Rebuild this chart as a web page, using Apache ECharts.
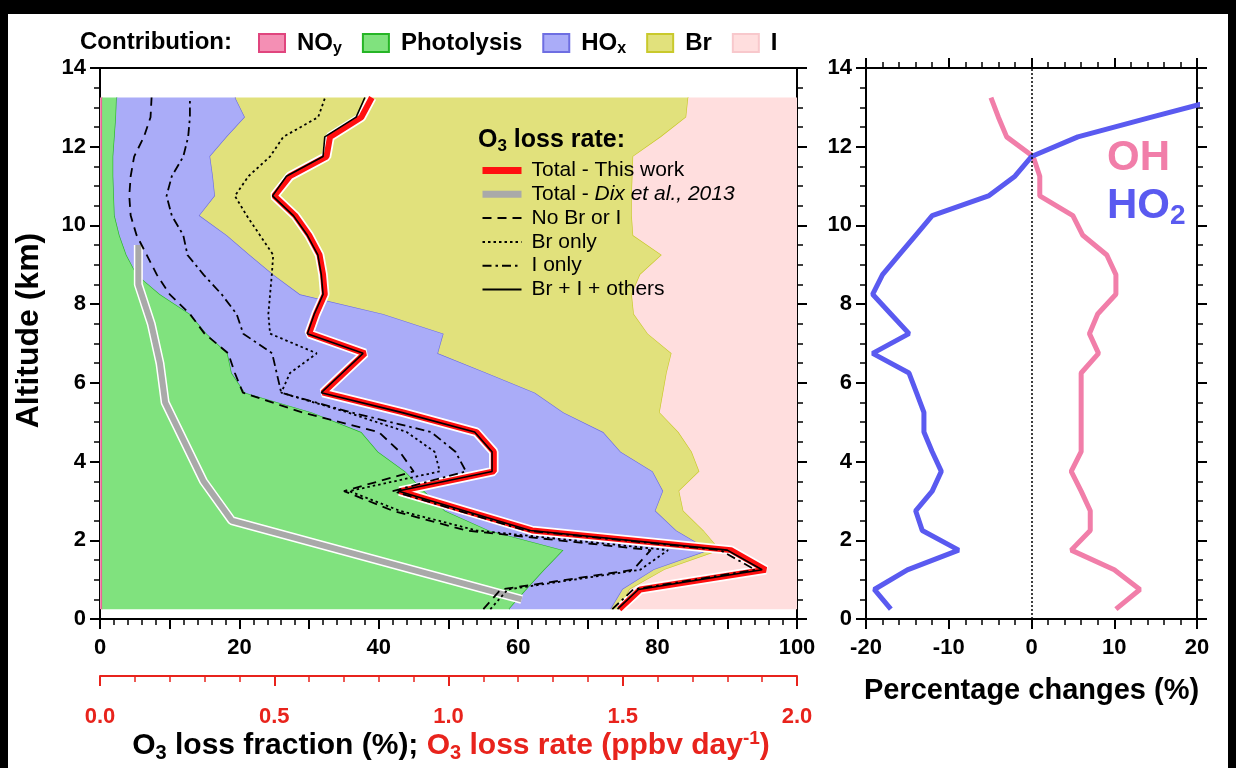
<!DOCTYPE html>
<html>
<head>
<meta charset="utf-8">
<script src="https://cdn.jsdelivr.net/npm/echarts@6/dist/echarts.min.js"></script>
<style>
  html, body { margin: 0; padding: 0; background: #000; width: 1236px; height: 768px; overflow: hidden; }
  #chart { position: absolute; left: 8px; top: 14px; width: 1220px; height: 754px; background: #fff; }
</style>
</head>
<body>
<div id="chart"></div>
<script>
// Model levels (km)
const altitude = [0.25, 0.75, 1.25, 1.75, 2.25, 2.75, 3.25, 3.75, 4.25, 4.75, 5.25, 5.75, 6.25, 6.75,
  7.25, 7.75, 8.25, 8.75, 9.25, 9.75, 10.25, 10.75, 11.25, 11.75, 12.25, 12.75, 13.25];

// Contribution of each process to the O3 loss fraction (%)
const noyShare = [0.3, 0.3, 0.3, 0.3, 0.3, 0.3, 0.3, 0.3, 0.3, 0.3, 0.3, 0.3, 0.3, 0.3,
  0.3, 0.3, 0.3, 0.3, 0.3, 0.3, 0.3, 0.3, 0.3, 0.3, 0.3, 0.3, 0.3];
const photolysisShare = [58.4, 60.9, 63.5, 66.2, 55.5, 49.2, 46.2, 43.5, 39.6, 37.2, 30.1, 20.5, 18.6, 18.0,
  15.0, 12.6, 8.3, 5.0, 3.5, 2.5, 1.8, 1.7, 1.6, 1.6, 1.8, 2.0, 2.1];
const hoxShare = [14.6, 13.8, 15.7, 21.0, 26.9, 30.2, 34.3, 35.5, 34.8, 34.7, 36.1, 41.6, 36.6, 30.2,
  34.0, 27.7, 20.1, 19.6, 17.7, 15.4, 12.2, 14.5, 14.3, 13.9, 16.1, 18.5, 17.0];
const brShare = [1.3, 1.0, 1.5, 1.5, 3.9, 4.0, 2.3, 6.7, 10.2, 10.8, 13.8, 18.4, 25.8, 33.5,
  29.3, 36.0, 47.6, 52.6, 59.1, 58.3, 62.0, 59.8, 60.2, 60.7, 62.3, 63.3, 65.0];
const iShare = [25.4, 24.0, 19.0, 11.0, 13.4, 16.3, 16.9, 14.0, 15.1, 17.0, 19.7, 19.2, 18.7, 18.0,
  21.4, 23.4, 23.7, 22.5, 19.4, 23.5, 23.7, 23.7, 23.6, 23.5, 19.5, 15.9, 15.6];

// O3 loss rates (ppbv day-1)
const totalRate = [1.49, 1.55, 1.91, 1.81, 1.24, 1.05, 0.86, 1.13, 1.13, 1.08, 0.87, 0.64, 0.70, 0.76,
  0.60, 0.62, 0.645, 0.64, 0.63, 0.60, 0.56, 0.50, 0.545, 0.65, 0.66, 0.75, 0.78];
const brIOthersRate = [1.485, 1.545, 1.90, 1.80, 1.235, 1.045, 0.855, 1.125, 1.125, 1.075, 0.865, 0.635, 0.695, 0.755,
  0.595, 0.615, 0.64, 0.635, 0.625, 0.595, 0.555, 0.495, 0.535, 0.64, 0.645, 0.735, 0.76];
const noBrIRate = [1.10, 1.15, 1.53, 1.58, 1.05, 0.84, 0.70, 0.90, 0.86, 0.80, 0.58, 0.41, 0.387, 0.368,
  0.30, 0.258, 0.20, 0.163, 0.134, 0.105, 0.088, 0.084, 0.088, 0.098, 0.126, 0.145, 0.148];
const brOnlyRate = [1.12, 1.17, 1.55, 1.63, 1.08, 0.86, 0.715, 0.975, 0.96, 0.88, 0.71, 0.52, 0.545, 0.622,
  0.488, 0.483, 0.488, 0.493, 0.497, 0.459, 0.421, 0.387, 0.426, 0.488, 0.526, 0.626, 0.646];
const iOnlyRate = [1.47, 1.53, 1.88, 1.78, 1.22, 1.03, 0.84, 1.05, 1.02, 0.95, 0.72, 0.52, 0.507, 0.494,
  0.411, 0.392, 0.349, 0.297, 0.251, 0.239, 0.206, 0.191, 0.206, 0.239, 0.253, 0.258, 0.258];

// Dix et al. (2013) total loss rate
const dixAltitude = [0.5, 2.5, 3.5, 5.5, 6.5, 7.5, 8.5, 9.5];
const dixRate = [1.21, 0.378, 0.297, 0.187, 0.172, 0.147, 0.110, 0.110];

// Percentage changes of OH and HO2 (%)
const ohChange = [10.2, 13.1, 10.0, 4.8, 7.1, 7.1, 6.0, 4.8, 6.0, 6.0, 6.0, 6.0, 6.0, 8.1,
  7.0, 8.0, 10.2, 10.2, 9.1, 6.2, 5.0, 1.0, 1.0, 0.2, -3.0, -4.0, -4.9];
const ho2Change = [-17, -19, -15, -8.8, -13.2, -14, -12, -10.9, -12, -13, -13, -13.9, -14.8, -19.2,
  -14.8, -17, -19.2, -18, -16, -14, -12, -5.2, -2, 0, 5.6, 14.5, 23.5];

// ---------------------------------------------------------------------------
const FONT = "'Liberation Sans', Arial, sans-serif";
const RED = '#e8231c';

const bands = [
  { name: 'NOy', share: noyShare, fill: '#f48fb4', edge: '#e0457e' },
  { name: 'Photolysis', share: photolysisShare, fill: '#80e27e', edge: '#26b526' },
  { name: 'HOx', share: hoxShare, fill: '#aaacf8', edge: '#6e6ee2' },
  { name: 'Br', share: brShare, fill: '#e1e17c', edge: '#c9c92c' },
  { name: 'I', share: iShare, fill: '#ffdede', edge: '#f8c8cc' }
];

// running totals: boundary k is the sum of the first k contributions
const boundaries = [altitude.map(() => 0)];
bands.forEach((b, k) => {
  boundaries.push(boundaries[k].map((v, i) => v + b.share[i]));
});

function bandSeries(b, k) {
  const last = k === bands.length - 1;
  return {
    type: 'custom', name: b.name, xAxisIndex: 0, yAxisIndex: 0, z: 1, silent: true,
    itemStyle: { color: b.fill, borderColor: b.edge, borderWidth: 1.5 },
    data: [[0, 0]],
    renderItem(params, api) {
      const right = altitude.map((a, i) => api.coord([boundaries[k + 1][i], a]));
      const left = altitude.map((a, i) => api.coord([boundaries[k][i], a])).reverse();
      const children = [{ type: 'polygon', shape: { points: right.concat(left) }, style: { fill: b.fill } }];
      if (!last) {
        children.push({ type: 'polyline', shape: { points: right },
          style: { stroke: b.edge, lineWidth: 1.3, fill: null } });
      }
      return { type: 'group', children };
    }
  };
}

function rateSeries(name, values, alts, lineStyle, z) {
  return {
    type: 'line', name, xAxisIndex: 1, yAxisIndex: 0, symbol: 'none', z, silent: true,
    itemStyle: { color: lineStyle.color },
    lineStyle, data: alts.map((a, i) => [values[i], a])
  };
}

function changeSeries(name, values, color) {
  return {
    type: 'line', name, xAxisIndex: 3, yAxisIndex: 2, symbol: 'none', z: 3, silent: true,
    itemStyle: { color }, lineStyle: { color, width: 5 }, data: altitude.map((a, i) => [values[i], a])
  };
}

const tickLabel = { fontFamily: FONT, fontWeight: 'bold', fontSize: 22, color: '#000' };
const axisLine = { show: true, onZero: false, lineStyle: { color: '#000', width: 2 } };
const axisTick = { show: true, inside: false, length: 10, lineStyle: { color: '#000', width: 2 } };
const minorTick = { show: true, length: 6, lineStyle: { color: '#000', width: 1.5 } };

// rich text styles with a lowered, smaller second token
function sub(size, color) {
  return {
    base: { fontFamily: FONT, fontWeight: 'bold', fontSize: size, color, fill: color, lineHeight: size + 6 },
    sub: { fontFamily: FONT, fontWeight: 'bold', fontSize: Math.round(size * 0.66), color, fill: color,
      lineHeight: Math.round(size * 0.66), padding: [Math.round(size * 0.5), 0, 0, 0] }
  };
}

const legendNames = { NOy: '{base|NO}{sub|y}', Photolysis: '{base|Photolysis}', HOx: '{base|HO}{sub|x}', Br: '{base|Br}', I: '{base|I}' };

const GX = 8, GY = 14; // offset of the drawing area on the page

const titleRich = sub(30, '#000');
const titleRed = sub(30, RED);

const option = {
  animation: false,
  backgroundColor: '#fff',
  grid: [
    { left: 100 - GX, top: 68 - GY, width: 697, height: 551, outerBoundsMode: 'none', containLabel: false },
    { left: 866 - GX, top: 68 - GY, width: 331, height: 551, outerBoundsMode: 'none', containLabel: false }
  ],
  xAxis: [
    { type: 'value', gridIndex: 0, position: 'bottom', min: 0, max: 100, interval: 10,
      axisLine, axisTick, minorTick: Object.assign({ splitNumber: 5 }, minorTick),
      splitLine: { show: false },
      axisLabel: Object.assign({ margin: 18, formatter: v => (v % 20 === 0 ? String(v) : '') }, tickLabel) },
    { type: 'value', gridIndex: 0, position: 'bottom', offset: 57, min: 0, max: 2, interval: 0.5,
      axisLine: { show: true, onZero: false, lineStyle: { color: RED, width: 2 } },
      axisTick: { show: true, length: 10, lineStyle: { color: RED, width: 2 } },
      minorTick: { show: true, splitNumber: 5, length: 6, lineStyle: { color: RED, width: 1.5 } },
      splitLine: { show: false },
      axisLabel: Object.assign({}, tickLabel, { color: RED, margin: 30, formatter: v => v.toFixed(1) }) },
    { type: 'value', gridIndex: 0, position: 'top', min: 0, max: 100,
      axisLine, axisTick: { show: false }, axisLabel: { show: false }, splitLine: { show: false } },
    { type: 'value', gridIndex: 1, position: 'bottom', min: -20, max: 20, interval: 10,
      axisLine, axisTick, minorTick: Object.assign({ splitNumber: 5 }, minorTick),
      splitLine: { show: false },
      axisLabel: Object.assign({ margin: 18 }, tickLabel),
      name: 'Percentage changes (%)', nameLocation: 'middle', nameGap: 57,
      nameTextStyle: { fontFamily: FONT, fontWeight: 'bold', fontSize: 29, color: '#000' } },
    { type: 'value', gridIndex: 1, position: 'top', min: -20, max: 20, interval: 10,
      axisLine, axisTick, minorTick: Object.assign({ splitNumber: 5 }, minorTick),
      splitLine: { show: false }, axisLabel: { show: false } }
  ],
  yAxis: [
    { type: 'value', gridIndex: 0, position: 'left', min: 0, max: 14, interval: 2,
      axisLine, axisTick, minorTick: Object.assign({ splitNumber: 4 }, minorTick),
      splitLine: { show: false }, axisLabel: Object.assign({ margin: 14 }, tickLabel),
      name: 'Altitude (km)', nameLocation: 'middle', nameGap: 55, nameRotate: 90,
      nameTextStyle: { fontFamily: FONT, fontWeight: 'bold', fontSize: 32, color: '#000', padding: [0, 0, 0, 26] } },
    { type: 'value', gridIndex: 0, position: 'right', min: 0, max: 14, interval: 2,
      axisLine, axisTick, minorTick: Object.assign({ splitNumber: 4 }, minorTick),
      splitLine: { show: false }, axisLabel: { show: false } },
    { type: 'value', gridIndex: 1, position: 'left', min: 0, max: 14, interval: 2,
      axisLine, axisTick, minorTick: Object.assign({ splitNumber: 4 }, minorTick),
      splitLine: { show: false }, axisLabel: Object.assign({ margin: 14 }, tickLabel) },
    { type: 'value', gridIndex: 1, position: 'right', min: 0, max: 14, interval: 2,
      axisLine, axisTick, minorTick: Object.assign({ splitNumber: 4 }, minorTick),
      splitLine: { show: false }, axisLabel: { show: false } }
  ],
  legend: [
    {
      data: bands.map(b => b.name), selectedMode: false, padding: 0,
      left: 258 - GX, top: 29 - GY, itemWidth: 26, itemHeight: 18, itemGap: 20, icon: 'rect',
      formatter: name => legendNames[name],
      textStyle: { padding: [0, 0, 0, 7], rich: sub(24, '#000') }
    },
    {
      data: [
        { name: 'Total - This work', lineStyle: { width: 7 } },
        { name: 'Total - Dix et al., 2013', lineStyle: { width: 7 } },
        { name: 'No Br or I', lineStyle: { width: 2 } },
        { name: 'Br only', lineStyle: { width: 2 } },
        { name: 'I only', lineStyle: { width: 2 } },
        { name: 'Br + I + others', lineStyle: { width: 2 } }
      ],
      selectedMode: false, orient: 'vertical', padding: 0,
      left: 479 - GX, top: 160 - GY, itemWidth: 39, itemHeight: 14, itemGap: 2.8,
      itemStyle: { color: 'rgba(0,0,0,0)', borderWidth: 0, opacity: 0 },
      formatter: name => name === 'Total - Dix et al., 2013' ? 'Total - {it|Dix et al., 2013}' : name,
      textStyle: { fontFamily: FONT, fontSize: 21, color: '#000', padding: [0, 0, 0, 5],
        rich: { it: { fontFamily: FONT, fontSize: 21, fontStyle: 'italic', color: '#000' } } }
    }
  ],
  graphic: [
    { type: 'text', x: 80 - GX, y: 42 - GY, z: 10,
      style: { text: 'Contribution:', font: `bold 24px ${FONT}`, fill: '#000', verticalAlign: 'middle' } },
    { type: 'text', x: 478 - GX, y: 140 - GY, z: 10,
      style: { text: '{base|O}{sub|3}{base| loss rate:}', rich: sub(25, '#000'), verticalAlign: 'middle' } },
    { type: 'text', x: 451 - GX, y: 746 - GY, z: 10,
      style: {
        text: '{base|O}{sub|3}{base| loss fraction (%); }{rb|O}{rs|3}{rb| loss rate (ppbv day}{sup|-1}{rb|)}',
        align: 'center', verticalAlign: 'middle',
        rich: {
          base: titleRich.base, sub: titleRich.sub, rb: titleRed.base, rs: titleRed.sub,
          sup: { fontFamily: FONT, fontWeight: 'bold', fontSize: 19, fill: RED, color: RED, lineHeight: 19, padding: [0, 0, 15, 0] }
        }
      } },
    { type: 'text', x: 1107 - GX, y: 158 - GY, z: 10,
      style: { text: 'OH', font: `bold 42px ${FONT}`, fill: '#f17ea9', verticalAlign: 'middle' } },
    { type: 'text', x: 1107 - GX, y: 206 - GY, z: 10,
      style: { text: '{base|HO}{sub|2}', rich: sub(42, '#5a5af0'), verticalAlign: 'middle' } }
  ],
  series: [
    ...bands.map(bandSeries),
    rateSeries('dix-outline', dixRate, dixAltitude, { color: '#fff', width: 9 }, 2),
    rateSeries('Total - Dix et al., 2013', dixRate, dixAltitude, { color: '#a9a9a9', width: 6 }, 3),
    rateSeries('total-outline', totalRate, altitude, { color: '#fff', width: 9.5 }, 4),
    rateSeries('Total - This work', totalRate, altitude, { color: '#ff1010', width: 6 }, 5),
    rateSeries('Br + I + others', brIOthersRate, altitude, { color: '#000', width: 1.6 }, 6),
    rateSeries('No Br or I', noBrIRate, altitude, { color: '#000', width: 1.8, type: [9, 6] }, 7),
    rateSeries('Br only', brOnlyRate, altitude, { color: '#000', width: 1.8, type: [2.5, 3] }, 7),
    rateSeries('I only', iOnlyRate, altitude, { color: '#000', width: 1.8, type: [9, 4, 2.5, 4] }, 7),
    Object.assign(changeSeries('OH', ohChange, '#f17ea9'), {
      markLine: { silent: true, symbol: 'none', label: { show: false },
        lineStyle: { color: '#000', type: [2, 2], width: 1.5 }, data: [{ xAxis: 0 }] }
    }),
    changeSeries('HO2', ho2Change, '#5a5af0')
  ]
};

const chart = echarts.init(document.getElementById('chart'), null, { renderer: 'canvas' });
chart.setOption(option);
</script>
</body>
</html>
